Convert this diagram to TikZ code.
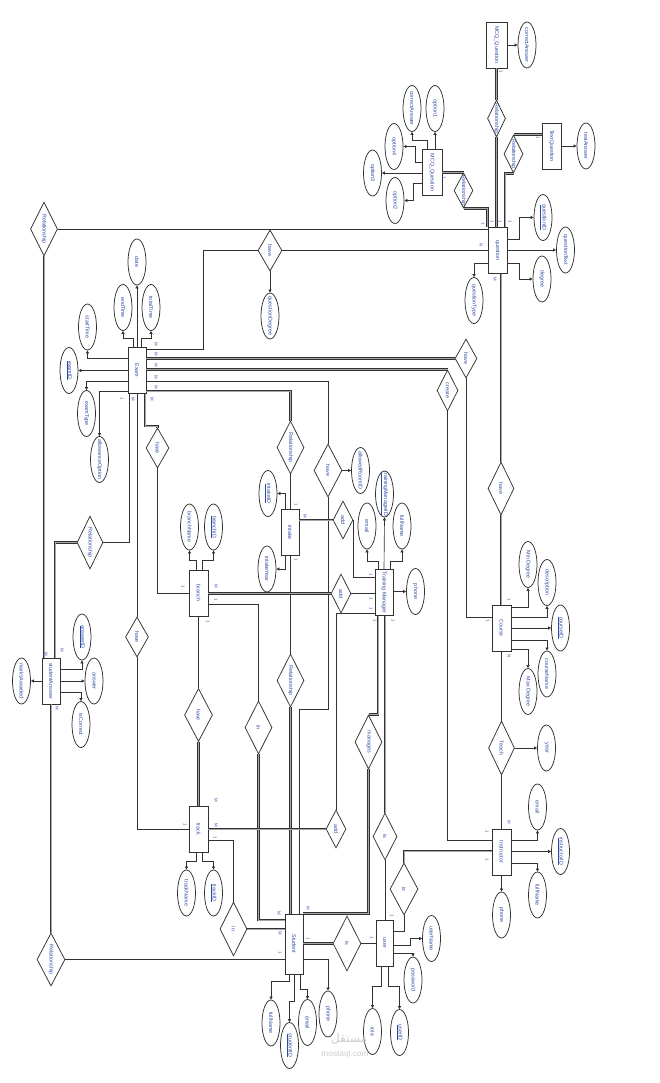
\documentclass[tikz,border=0pt]{standalone}
\usepackage{fontspec}
\setmainfont{Liberation Sans}
\newfontfamily\arabicfont[Script=Arabic]{DejaVu Sans}
\TeXXeTstate=1
\usetikzlibrary{shapes.geometric,arrows.meta}
\definecolor{edge}{RGB}{50,50,50}
\definecolor{txtc}{RGB}{45,75,165}
\tikzset{
 ent/.style={draw=edge, line width=0.75pt, fill=white, minimum width=19pt, minimum height=46pt, inner sep=0pt},
 att/.style={ellipse, draw=edge, line width=0.75pt, fill=white, minimum width=18pt, minimum height=46pt, inner sep=0pt},
 rel/.style 2 args={diamond, draw=edge, line width=0.75pt, fill=white, minimum width=#1, minimum height=#2, inner sep=0pt},
 vt/.style={rotate=-90, text=txtc, font=\fontsize{5.4}{6}\selectfont, inner sep=0pt},
 card/.style={rotate=-90, text=txtc, font=\fontsize{4.3}{5}\selectfont, inner sep=0pt},
 ln/.style={draw=edge, line width=0.65pt},
 dbl/.style={draw=edge, line width=0.7pt, double=gray!70, double distance=1pt},
 arr/.style={ln, -{Triangle[length=3pt,width=3pt]}},
}
\begin{document}
\begin{tikzpicture}[x=1pt,y=-1pt]
\useasboundingbox (0,0) rectangle (660,1083);
% ---------- entities ----------
\node[ent, minimum width=21pt, label={[vt]center:MCQ\_Question}] (mcqA) at (496.5,45) {};
\node[ent, label={[vt]center:TextQuestion}] (textq) at (551.5,146) {};
\node[ent, minimum width=20pt, label={[vt]center:MCQ\_Question}] (mcqB) at (432,172.5) {};
\node[ent, label={[vt]center:question}] (quest) at (497.5,250.5) {};
\node[ent, minimum width=18pt, label={[vt]center:Exam}] (exam) at (137,370.5) {};
\node[ent, minimum width=18pt, label={[vt]center:Intake}] (intake) at (290,532.5) {};
\node[ent, label={[vt]center:branch}] (branch) at (198.5,593) {};
\node[ent, minimum width=18pt, label={[vt]center:Training Manager}] (tm) at (384,592.5) {};
\node[ent, label={[vt]center:Course}] (course) at (501.5,628) {};
\node[ent, label={[vt]center:track}] (track) at (198.5,829) {};
\node[ent, label={[vt]center:Instructor}] (instr) at (501.5,852) {};
\node[ent, minimum width=18pt, minimum height=60pt, label={[vt]center:Student}] (student) at (294,944) {};
\node[ent, minimum width=17pt, label={[vt]center:user}] (user) at (384.5,943) {};
\node[ent, minimum width=18pt, label={[vt]center:studentAnswer}] (sa) at (51,681) {};
% ---------- attributes ----------
\node[att, label={[vt]center:correctAnswer}] (mcqAca) at (527,45) {};
\node[att, label={[vt]center:textAnswer}] (textqta) at (586,146) {};
\node[att, label={[vt]center:option1}] (op1) at (435,108.5) {};
\node[att, label={[vt]center:correctAnswer}] (caB) at (412,108.5) {};
\node[att, label={[vt]center:option4}] (op4) at (394,146.5) {};
\node[att, label={[vt]center:option3}] (op3) at (372.5,173) {};
\node[att, label={[vt]center:option2}] (op2) at (395,200.5) {};
\node[att, label={[vt]center:\underline{questionID}}] (qid) at (543,217.5) {};
\node[att, label={[vt]center:questionText}] (qtext) at (565.5,250) {};
\node[att, label={[vt]center:degree}] (deg) at (542,279) {};
\node[att, label={[vt]center:questionType}] (qtype) at (474,300.5) {};
\node[att, label={[vt]center:questionDegree}] (qdeg) at (270,316) {};
\node[att, label={[vt]center:date}] (date) at (137,262) {};
\node[att, label={[vt]center:endTime}] (endT) at (123,307.5) {};
\node[att, label={[vt]center:totalTime}] (totT) at (151,307.5) {};
\node[att, label={[vt]center:startTime}] (startT) at (87.5,327) {};
\node[att, label={[vt]center:\underline{examID}}] (examid) at (69,370.5) {};
\node[att, label={[vt]center:examType}] (examT) at (86.5,413.5) {};
\node[att, label={[vt]center:allowanceOption}] (allow) at (99.5,459.5) {};
\node[att, label={[vt]center:allowedRoomID}] (room) at (360.5,470.5) {};
\node[att, label={[vt]center:\underline{intakeID}}] (intakeid) at (268,493.5) {};
\node[att, label={[vt]center:intakeYear}] (intakeyr) at (267,569) {};
\node[att, label={[vt]center:branchName}] (bname) at (189.5,527) {};
\node[att, label={[vt]center:\underline{branchID}}] (bid) at (213.5,527) {};
\node[att, label={[vt]center:\underline{trainingManagerID}}] (tmid) at (384.5,494) {};
\node[att, label={[vt]center:email}] (email1) at (367,526) {};
\node[att, label={[vt]center:fullName}] (fname1) at (402,526) {};
\node[att, label={[vt]center:phone}] (phone1) at (415.5,591.5) {};
\node[att, label={[vt]center:Min Degree}] (mind) at (528,564.5) {};
\node[att, label={[vt]center:description}] (desc) at (547,582.5) {};
\node[att, label={[vt]center:\underline{courseID}}] (cid) at (560.5,628) {};
\node[att, label={[vt]center:courseName}] (cname) at (547,674) {};
\node[att, label={[vt]center:Max Degree}] (maxd) at (528,691.5) {};
\node[att, label={[vt]center:year}] (year) at (546.5,748) {};
\node[att, label={[vt]center:email}] (email2) at (537.5,807) {};
\node[att, label={[vt]center:\underline{instructorID}}] (iid) at (560.5,851.5) {};
\node[att, label={[vt]center:fullName}] (fname2) at (537.5,895) {};
\node[att, label={[vt]center:phone}] (phone2) at (501.5,915) {};
\node[att, label={[vt]center:trackName}] (tname) at (186.5,893) {};
\node[att, label={[vt]center:\underline{trackID}}] (tid) at (213.5,893) {};
\node[att, label={[vt]center:fullName}] (sfn) at (271,1023) {};
\node[att, label={[vt]center:\underline{studentID}}] (sid) at (289.5,1045.5) {};
\node[att, label={[vt]center:email}] (semail) at (307.5,1022.5) {};
\node[att, label={[vt]center:phone}] (sphone) at (328,1014) {};
\node[att, label={[vt]center:userName}] (uname) at (431.5,938.5) {};
\node[att, label={[vt]center:password}] (pwd) at (413,980) {};
\node[att, label={[vt]center:role}] (role) at (372.5,1031.5) {};
\node[att, label={[vt]center:\underline{userID}}] (uid) at (399.5,1032.5) {};
\node[att, label={[vt]center:\underline{answerID}}] (said) at (82,637) {};
\node[att, label={[vt]center:answer}] (ans) at (94,681) {};
\node[att, label={[vt]center:isCorrect}] (isc) at (81,724.5) {};
\node[att, label={[vt]center:marksAwarded}] (marks) at (21.5,681) {};
% ---------- relationships ----------
\node[rel={27pt}{54pt}, label={[vt]center:Relationship}] (r1) at (44,229) {};
\node[rel={18pt}{37pt}, label={[vt]center:Relationship}] (rA) at (496.5,118.5) {};
\node[rel={19pt}{38pt}, label={[vt]center:Relationship}] (rT) at (513.5,154) {};
\node[rel={19pt}{35pt}, label={[vt]center:Relationship}] (rM) at (463.5,190.5) {};
\node[rel={24pt}{41pt}, label={[vt]center:have}] (haveQ) at (270,250.5) {};
\node[rel={22pt}{39pt}, label={[vt]center:have}] (haveC) at (466,358.5) {};
\node[rel={21pt}{41pt}, label={[vt]center:create}] (create) at (447.5,390.5) {};
\node[rel={28pt}{53pt}, label={[vt]center:have}] (haveS) at (328,470.5) {};
\node[rel={27pt}{53pt}, label={[vt]center:Relationship}] (relI) at (290.5,447.5) {};
\node[rel={23pt}{40pt}, label={[vt]center:have}] (haveB) at (157.5,448) {};
\node[rel={26pt}{53pt}, label={[vt]center:Relationship}] (relSA) at (90,542.5) {};
\node[rel={23pt}{40pt}, label={[vt]center:have}] (haveT) at (137,637) {};
\node[rel={20pt}{38pt}, label={[vt]center:add}] (add1) at (343,520) {};
\node[rel={20pt}{39pt}, label={[vt]center:add}] (add2) at (341,593.5) {};
\node[rel={20pt}{38pt}, label={[vt]center:add}] (add3) at (336,829) {};
\node[rel={28pt}{53pt}, label={[vt]center:have}] (haveBT) at (198.5,715) {};
\node[rel={27pt}{53pt}, label={[vt]center:in}] (inB) at (258.5,727.5) {};
\node[rel={27pt}{53pt}, label={[vt]center:Relationship}] (relIS) at (290.5,680.5) {};
\node[rel={27pt}{54pt}, label={[vt]center:manages}] (manages) at (368.5,742) {};
\node[rel={24pt}{47pt}, label={[vt]center:is}] (isTM) at (385,836.5) {};
\node[rel={28pt}{52pt}, label={[vt]center:is}] (isI) at (404,889) {};
\node[rel={28pt}{55pt}, label={[vt]center:is}] (isS) at (347,943.5) {};
\node[rel={27pt}{54pt}, label={[vt]center:in}] (inT) at (233.5,929) {};
\node[rel={26pt}{53pt}, label={[vt]center:have}] (haveCQ) at (501,488.5) {};
\node[rel={26pt}{54pt}, label={[vt]center:Teach}] (teach) at (501.5,748) {};
\node[rel={28pt}{53pt}, label={[vt]center:Relationship}] (r3) at (51,959.5) {};
% ---------- question cluster ----------
\draw[dbl] (mcqA.south) -- (rA.north);
\draw[dbl] (rA.south) -- (rA.south |- quest.north);
\draw[dbl] (textq.west |- rT.north) -- (rT.north);
\draw[dbl] (rT.south) -| (quest.north -| 505,0);
\draw[dbl] (mcqB.east |- rM.north) -- (rM.north);
\draw[dbl] (rM.south) -| (quest.north west);
\draw[arr] (mcqA.east) -- (mcqAca.west);
\draw[arr] (textq.east) -- (textqta.west);
\draw[arr] (mcqB.north -| op1.south) -- (op1.south);
\draw[arr] (mcqB.north -| 427,0) |- (caB.south |- 0,140) -- (caB.south);
\draw[arr] (mcqB.west |- 0,162) -| (415,146.5) -- (op4.east);
\draw[arr] (mcqB.west |- op3.east) -- (op3.east);
\draw[arr] (mcqB.west |- 0,183) -| (413,200.5) -- (op2.east);
\draw[arr] (quest.east |- 0,239) -| (519,217.5) -- (qid.west);
\draw[arr] (quest.east |- qtext.west) -- (qtext.west);
\draw[arr] (quest.east |- 0,263) -| (519,279) -- (deg.west);
\draw[arr] (quest.west |- 0,263) -| (qtype.north);
\draw[ln] (r1.east) -- (r1.east -| quest.west);
\draw[dbl] (r1.south) -- (r1.south |- sa.north);
\draw[ln] (exam.east |- 0,349) -| (203,250.5) -- (haveQ.west);
\draw[ln] (haveQ.east) -- (haveQ.east -| quest.west);
\draw[arr] (haveQ.south) -- (qdeg.north);
\draw[dbl] (quest.south -| haveCQ.north) -- (haveCQ.north);
\draw[dbl] (haveCQ.south) -- (course.north -| haveCQ.south);
% ---------- exam ----------
\draw[arr] (exam.north) -- (date.south);
\draw[arr] (exam.north -| 133,0) |- (endT.south |- 0,338) -- (endT.south);
\draw[arr] (exam.north -| 141,0) |- (totT.south |- 0,338) -- (totT.south);
\draw[arr] (exam.west |- 0,358) -| (startT.south);
\draw[arr] (exam.west) -- (examid.east);
\draw[arr] (exam.west |- 0,381) -| (examT.north);
\draw[arr] (exam.west |- 0,391) -| (allow.north);
\draw[dbl] (exam.east |- haveC.west) -- (haveC.west);
\draw[ln] (haveC.south) |- (course.west |- 0,617);
\draw[dbl] (exam.east |- create.north) -- (create.north);
\draw[ln] (create.south) |- (instr.west |- 0,840);
\draw[ln] (exam.east |- 0,381) -| (haveS.north);
\draw[arr] (haveS.east) -- (room.west);
\draw[ln] (haveS.south) |- (299,709) -- (student.north -| 299,0);
\draw[dbl] (exam.east |- 0,391) -| (relI.north);
\draw[ln] (relI.south) -- (intake.north -| relI.south);
\draw[dbl] (exam.south -| 145,0) |- (haveB.north |- 0,426) -- (haveB.north);
\draw[ln] (haveB.south) |- (branch.west |- 0,593);
\draw[ln] (exam.south) -- (haveT.north);
\draw[ln] (haveT.south) |- (track.west);
\draw[ln] (exam.south -| 129,0) |- (relSA.east);
\draw[dbl] (relSA.west) -| (sa.north -| 55,0);
% ---------- studentAnswer ----------
\draw[dbl] (r3.north) -- (sa.south -| r3.north);
\draw[ln] (r3.east) -- (student.west |- r3.east);
\draw[arr] (sa.east |- 0,669) -| (said.south);
\draw[arr] (sa.east) -- (ans.west);
\draw[arr] (sa.east |- 0,692) -| (isc.north);
\draw[arr] (sa.west) -- (marks.east);
% ---------- intake ----------
\draw[arr] (intake.north -| 285,0) |- (intakeid.east);
\draw[arr] (intake.south -| 285,0) |- (intakeyr.east);
\draw[ln] (intake.south -| relIS.north) -- (relIS.north);
\draw[dbl] (relIS.south) -- (student.north -| relIS.south);
\draw[dbl] (intake.east |- add1.west) -- (add1.west);
\draw[ln] (add1.east) |- (tm.west |- 0,577);
% ---------- branch ----------
\draw[dbl] (branch.east |- add2.west) -- (add2.west);
\draw[ln] (add2.east) -- (tm.west |- add2.east);
\draw[ln] (branch.east |- 0,604) -| (inB.north);
\draw[dbl] (inB.south) |- (student.west |- 0,920);
\draw[ln] (branch.south) -- (haveBT.north);
\draw[dbl] (haveBT.south) -- (track.north);
\draw[arr] (branch.north -| 196,0) |- (bname.south |- 0,560) -- (bname.south);
\draw[arr] (branch.north -| 202,0) |- (bid.south |- 0,560) -- (bid.south);
% ---------- track ----------
\draw[dbl] (track.east |- add3.west) -- (add3.west);
\draw[ln] (tm.west |- 0,613) -| (add3.north);
\draw[ln] (track.east |- 0,840) -| (inT.north);
\draw[dbl] (inT.east) -- (student.west |- inT.east);
\draw[arr] (track.south -| 196,0) |- (tname.north |- 0,861) -- (tname.north);
\draw[arr] (track.south -| 202,0) |- (tid.north |- 0,861) -- (tid.north);
% ---------- training manager ----------
\draw[arr] (tm.north) -- (tmid.south);
\draw[arr] (tm.north -| 378,0) |- (email1.south |- 0,561) -- (email1.south);
\draw[arr] (tm.north -| 390,0) |- (fname1.south |- 0,561) -- (fname1.south);
\draw[arr] (tm.east |- phone1.west) -- (phone1.west);
\draw[dbl] (tm.south -| 378,0) |- (manages.north);
\draw[dbl] (manages.south) |- (student.north east);
\draw[dbl] (tm.south -| isTM.north) -- (isTM.north);
\draw[ln] (isTM.south) -- (user.north -| isTM.south);
% ---------- course ----------
\draw[arr] (course.east |- 0,607) -| (mind.south);
\draw[arr] (course.east |- 0,617) -| (desc.south);
\draw[arr] (course.east) -- (cid.west);
\draw[arr] (course.east |- 0,640) -| (cname.north);
\draw[arr] (course.east |- 0,649) -| (maxd.north);
\draw[ln] (course.south) -- (teach.north);
\draw[ln] (teach.south) -- (instr.north);
\draw[arr] (teach.east) -- (year.west);
% ---------- instructor ----------
\draw[arr] (instr.east |- 0,840) -| (email2.south);
\draw[arr] (instr.east |- iid.west) -- (iid.west);
\draw[arr] (instr.east |- 0,863) -| (fname2.north);
\draw[arr] (instr.south) -- (phone2.north);
\draw[dbl] (instr.west |- 0,851) -| (isI.north);
\draw[ln] (isI.south) |- (user.east |- 0,931);
% ---------- user / student ----------
\draw[dbl] (student.east |- isS.west) -- (isS.west);
\draw[ln] (isS.east) -- (user.west |- isS.east);
\draw[arr] (user.east |- 0,945) -| (410,938.5) -- (uname.west);
\draw[arr] (user.east |- 0,953) -| (pwd.north);
\draw[arr] (user.south -| 381,0) |- (role.north |- 0,986) -- (role.north);
\draw[arr] (user.south -| 388,0) |- (uid.north |- 0,986) -- (uid.north);
\draw[arr] (student.south -| 289,0) |- (sfn.north |- 0,981) -- (sfn.north);
\draw[arr] (student.south -| 294,0) |- (sid.north |- 0,1001) -- (sid.north);
\draw[arr] (student.south -| 300,0) |- (semail.north |- 0,989) -- (semail.north);
\draw[arr] (student.east |- 0,959) -| (sphone.north);
% ---------- cardinalities ----------
\foreach \x/\y/\t [count=\i] in {501/72/1, 538/138/1, 444/178/1, 483/224/1, 492/222/1, 500/222/1, 510/222/1,
  481/245/N, 495/279/M, 156/344/M, 156/354/M, 156/365/M, 156/377/M, 156/387/M,
  122/399/1, 133/399/M, 152/399/M, 509/600/1, 488/621/1, 509/656/N, 509/822/M, 487/832/1, 487/860/1,
  296/505/1, 305/516/M, 296/560/1, 371/575/1, 371/599/1, 371/609/1, 375/621/1, 393/621/1,
  216/586/M, 183/587/1, 216/600/1, 208/622/1, 216/800/M, 185/825/1, 216/825/M, 215/838/1,
  279/913/M, 308/908/M, 280/933/M, 280/953/1, 308/939/1, 372/938/1, 392/916/1,
  62/650/M, 46/654/M, 57/708/M}
  \node[card] (k\i) at (\x,\y) {\t};
% ---------- watermark ----------
\node[text=gray!40, font=\arabicfont\fontsize{12}{12}\selectfont, inner sep=0pt] (wm1) at (349,1039) {\beginR مستقل\endR};
\node[text=gray!40, font=\fontsize{8.3}{9}\selectfont, inner sep=0pt] (wm2) at (345,1054) {mostaql.com};
\end{tikzpicture}
\end{document}
